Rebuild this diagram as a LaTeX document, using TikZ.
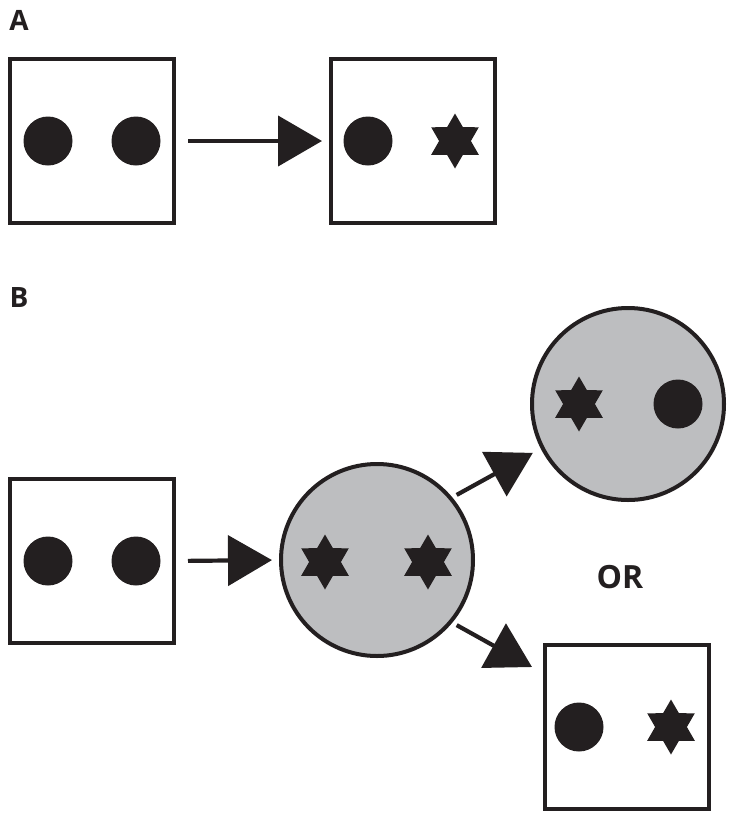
\documentclass[tikz,border=0pt]{standalone}
\usepackage{fontspec}
\newfontfamily\labelfont{Open Sans}
\usetikzlibrary{
    positioning,
    arrows.meta,
    shapes.geometric
}
\definecolor{inkBlack}{RGB}{35, 31, 32}
\definecolor{cellGray}{RGB}{189, 190, 192}

\tikzset{
    cellbox/.style={draw=inkBlack, line width=4pt, minimum size=164pt, inner sep=0pt, outer sep=0pt},
    cellround/.style={circle, draw=inkBlack, fill=cellGray, line width=4pt, minimum size=192pt, inner sep=0pt, outer sep=0pt},
    dot/.style={circle, fill=inkBlack, minimum size=49pt, inner sep=0pt},
    hexstar/.style={star, star points=6, star point ratio=1.73, fill=inkBlack, minimum size=55pt, inner sep=0pt},
    panel/.style={font=\labelfont\bfseries\fontsize{28}{32}\selectfont, text=inkBlack, inner sep=0pt},
    arr/.style={draw=inkBlack, line width=4.2pt, -{Triangle[length=44pt, width=50pt]}}
}

\begin{document}
\begin{tikzpicture}[x=1pt, y=-1pt]
    \useasboundingbox (0,0) rectangle (733,820);

    % Teil A
    \node[panel] (labA) at (19,20) {A};
    \node[cellbox] (a1) at (92,141) {};
    \node[dot] (a1l) at ([xshift=-44pt]a1.center) {};
    \node[dot] (a1r) at ([xshift=44pt]a1.center) {};
    \node[cellbox] (a2) at (413,141) {};
    \node[dot] (a2l) at ([xshift=-45pt]a2.center) {};
    \node[hexstar] (a2r) at ([xshift=42pt]a2.center) {};
    \draw[arr, shorten <=14pt, shorten >=9pt] (a1.east) -- (a2.west);

    % Teil B
    \node[panel] (labB) at (19,297) {B};
    \node[cellbox] (b1) at (92,561) {};
    \node[dot] (b1l) at ([xshift=-44pt]b1.center) {};
    \node[dot] (b1r) at ([xshift=44pt]b1.center) {};
    \node[cellround] (c1) at (377,560) {};
    \node[hexstar] (c1l) at ([shift={(-52,2)}]c1.center) {};
    \node[hexstar] (c1r) at ([shift={(51,2)}]c1.center) {};
    \draw[arr, shorten <=14pt, shorten >=9pt] (b1.east) -- (c1.west);

    % zwei Ausgaenge
    \node[cellround] (c2) at (628,404) {};
    \node[hexstar] (c2l) at ([xshift=-49pt]c2.center) {};
    \node[dot] (c2r) at ([xshift=50pt]c2.center) {};
    \node[cellbox] (b2) at (627,727) {};
    \node[dot] (b2l) at ([xshift=-48pt]b2.center) {};
    \node[hexstar] (b2r) at ([xshift=44pt]b2.center) {};
    \node[panel, font=\labelfont\bfseries\fontsize{32}{36}\selectfont] (orLabel) at (620,577) {OR};

    \coordinate (b2tip) at ([shift={(-13,22)}]b2.north west);
    \draw[arr, shorten <=7pt, shorten >=11pt] (c1.40) -- (c2.207);
    \draw[arr, shorten <=7pt] (c1.320) -- (b2tip);
\end{tikzpicture}
\end{document}
